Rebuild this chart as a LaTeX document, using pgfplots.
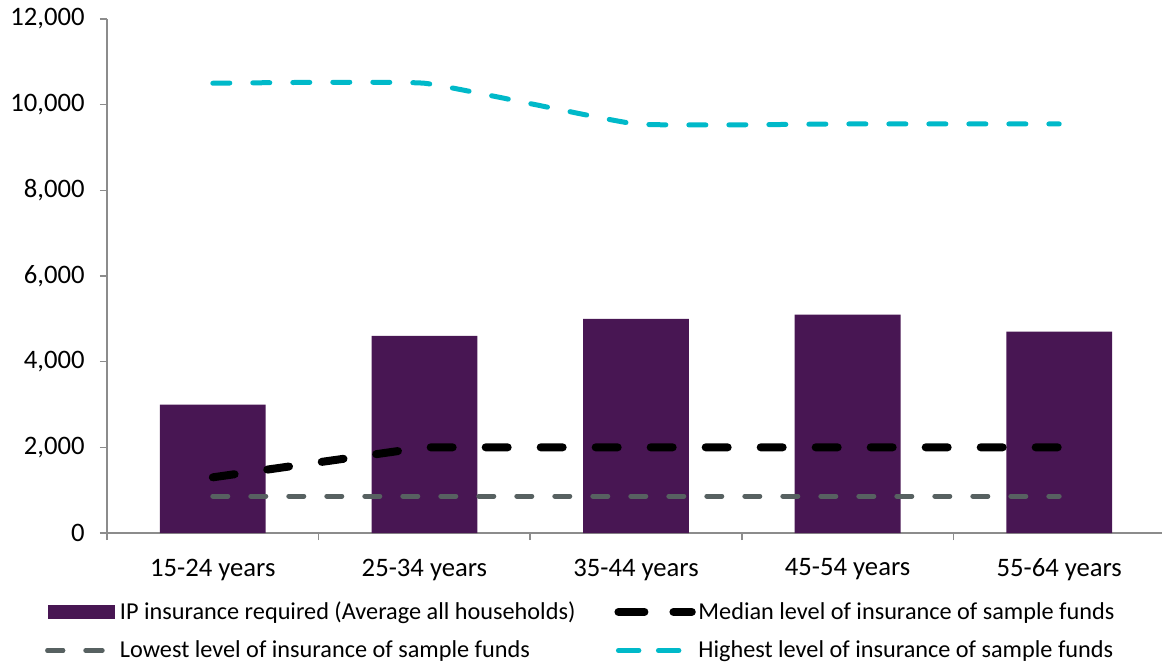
\documentclass[border=0pt]{standalone}
\usepackage{pgfplots}
\pgfplotsset{compat=1.18}
\usepackage{fontspec}
\setmainfont{Carlito}
\definecolor{barpurple}{HTML}{481653}
\definecolor{hicyan}{HTML}{00B9C9}
\definecolor{lowgrey}{HTML}{576161}
\definecolor{axisgrey}{HTML}{8C8C8C}

\tikzset{
  medline/.style={black, line width=6pt, line cap=round, dash pattern=on 16.5pt off 24.75pt},
  lowline/.style={lowgrey, line width=3.75pt, line cap=round, dash pattern=on 11.25pt off 17.25pt},
  highline/.style={hicyan, line width=3.75pt, line cap=round, dash pattern=on 12.75pt off 17.25pt},
}

\begin{document}
\begin{tikzpicture}
\begin{axis}[%
  at={(0pt,0pt)}, anchor=south west,
  scale only axis, width=793.5pt, height=385.5pt,
  xmin=-0.5, xmax=4.5, ymin=0, ymax=12000,
  axis lines=left,
  axis line style={-, draw=axisgrey, line width=1.1pt},
  tick align=outside,
  major tick length=5.25pt, minor tick length=5.25pt,
  xtick={0,1,2,3,4},
  xticklabels={15-24 years,25-34 years,35-44 years,45-54 years,55-64 years},
  minor xtick={-0.5,0.5,1.5,2.5,3.5,4.5},
  major x tick style={draw=none},
  minor x tick style={draw=axisgrey, line width=1.1pt},
  ytick={0,2000,4000,6000,8000,10000,12000},
  y tick style={draw=axisgrey, line width=1.1pt},
  ticklabel style={font=\fontsize{20}{24}\selectfont},
  xticklabel style={yshift=-10.5pt},
  yticklabel style={xshift=-8pt},
  /pgf/number format/assume math mode=true,
  /pgf/number format/1000 sep={,},
  scaled y ticks=false,
  legend columns=2,
  legend cell align=left,
  legend style={draw=none, fill=none,
    at={(-0.0624,-0.1906)}, anchor=west,
    font=\fontsize{18.2}{21}\selectfont,
    cells={anchor=west},
    row sep=10.5pt,
    /tikz/every even column/.append style={column sep=27.25pt},
    /tikz/column 2/.append style={nodes={xshift=-2.25pt}},
    /tikz/column 4/.append style={nodes={xshift=-18.75pt}}},
]
\addplot[ybar, bar width=0.5, fill=barpurple, draw=none,
  legend image code/.code={\fill[barpurple] (0pt,-5.25pt) rectangle (50.25pt,5.25pt);}]
  coordinates {(0,3000) (1,4600) (2,5000) (3,5100) (4,4700)};
\addlegendentry{IP insurance required (Average all households)}

\addplot[medline, sharp plot,
  legend image code/.code={\path (0pt,0pt) -- (55pt,0pt);
    \draw[black, line width=6pt, line cap=round] (3pt,0pt) -- (20.25pt,0pt) (45pt,0pt) -- (51.75pt,0pt);}]
  coordinates {(0,1300) (1,2000) (2,2000) (3,2000) (4,2000)};
\addlegendentry{Median level of insurance of sample funds}

\addplot[lowline, sharp plot,
  legend image code/.code={\path (0pt,0pt) -- (50.25pt,0pt);
    \draw[lowgrey, line width=3.75pt, line cap=round] (0pt,0pt) -- (12.4pt,0pt) (29.6pt,0pt) -- (43.1pt,0pt);}]
  coordinates {(0,860) (1,860) (2,860) (3,860) (4,860)};
\addlegendentry{Lowest level of insurance of sample funds}

\addplot[highline, smooth, tension=0.2,
  legend image code/.code={\path (0pt,0pt) -- (55pt,0pt);
    \draw[hicyan, line width=3.75pt, line cap=round] (2.6pt,0pt) -- (15.4pt,0pt) (32.6pt,0pt) -- (45.4pt,0pt);}]
  coordinates {(0,10500) (1,10500) (2,9550) (3,9550) (4,9550)};
\addlegendentry{Highest level of insurance of sample funds}
\end{axis}
\pgfresetboundingbox
\path[use as bounding box] (-80.25pt,-98.25pt) rectangle (791.25pt,399.75pt);
\end{tikzpicture}
\end{document}
